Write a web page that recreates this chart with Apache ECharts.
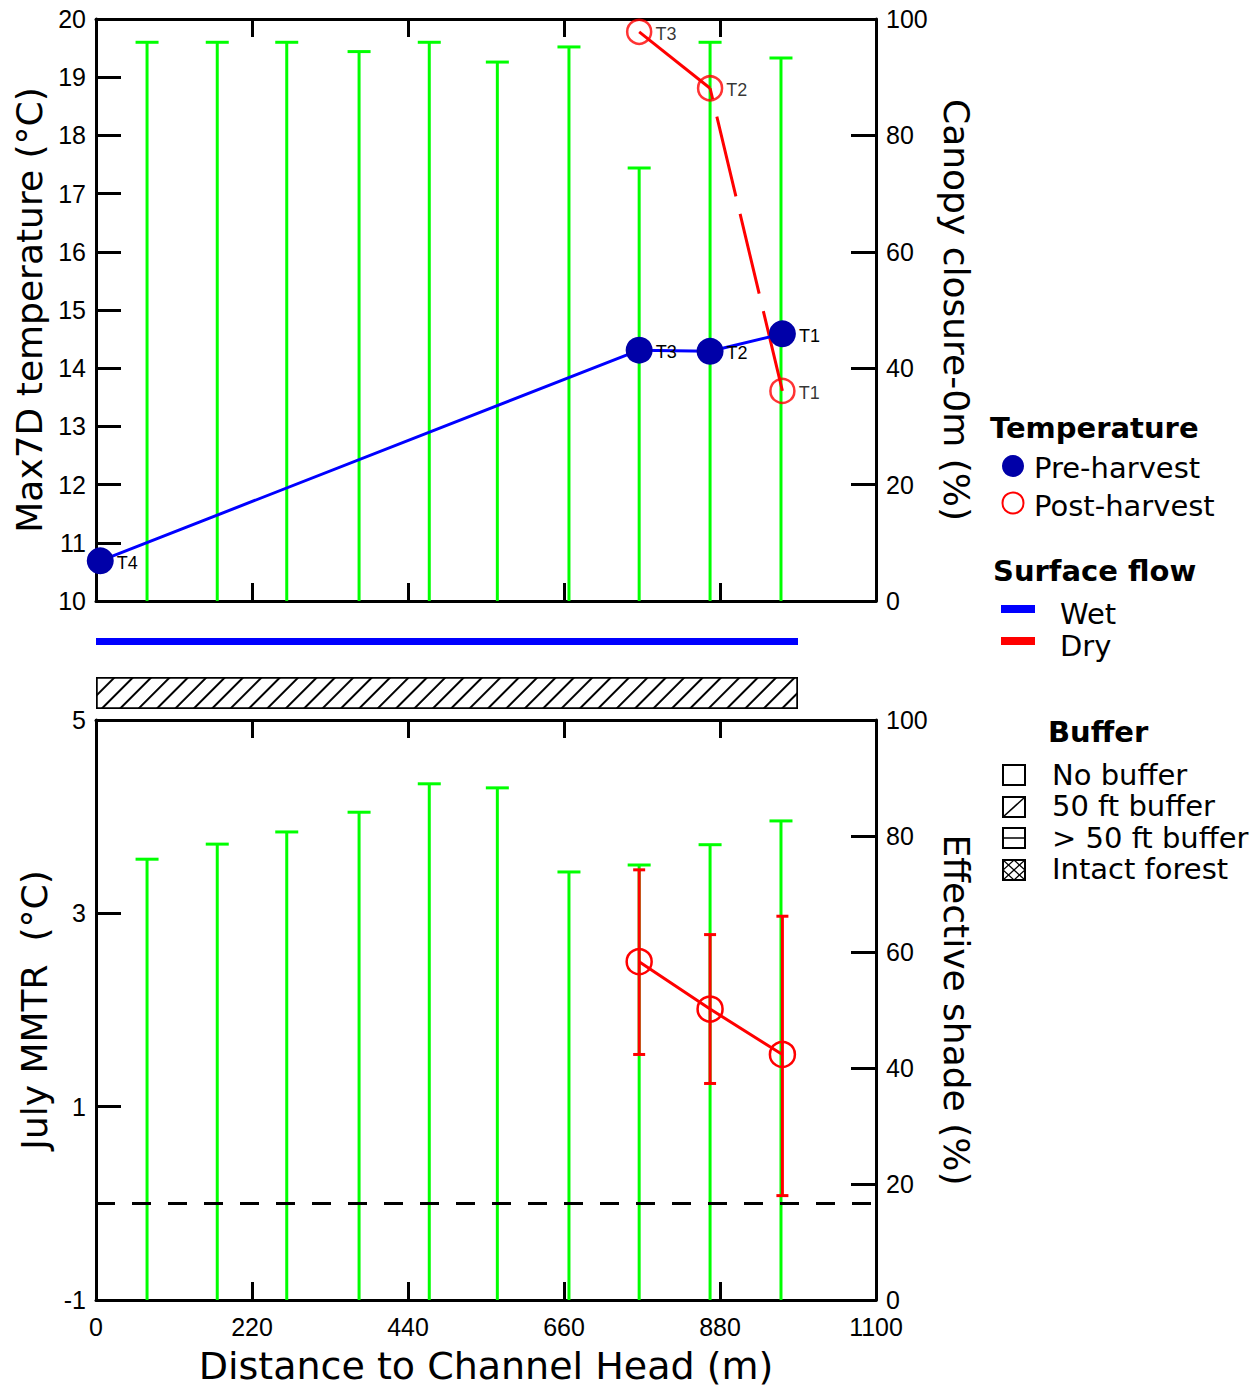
<!DOCTYPE html>
<html><head><meta charset="utf-8">
<script src="https://cdn.jsdelivr.net/npm/echarts@6/dist/echarts.min.js"></script>
<style>html,body{margin:0;padding:0;background:#fff}#c{width:1255px;height:1392px}</style>
</head><body><div id="c"></div><script>
// ---------------- data ----------------
const stationX = [72, 171, 269, 371, 470, 566, 667, 766, 866, 966];
const canopyClosure = [96.0, 96.0, 96.0, 94.4, 96.0, 92.6, 95.2, 74.4, 96.0, 93.3];
const effectiveShade = [76.0, 78.6, 80.7, 84.1, 89.0, 88.3, 73.8, 75.0, 78.5, 82.6];
const siteNames = ['T4', 'T3', 'T2', 'T1'];
const siteX = [6, 766, 866, 968];
const preHarvest = [10.69, 14.31, 14.29, 14.59];
const postHarvest = [null, 19.78, 18.81, 13.61];
const mmtrNames = ['T3', 'T2', 'T1'];
const mmtrX = [766, 866, 968];
const mmtrMean = [2.50, 2.01, 1.54];
const mmtrLow = [1.54, 1.24, 0.08];
const mmtrHigh = [3.45, 2.78, 2.97];
const wetFlowRange = [0, 990];
const buffer50Range = [0, 990];
const distanceTicks = [0, 220, 440, 660, 880, 1100];
const maxTempTicks = [10, 20, 1];
const mmtrTicks = [-1, 5, 2];
const percentTicks = [0, 100, 20];

// ---------------- helpers ----------------
const TICKF = 'Liberation Sans';
const TITLEF = 'DejaVu Sans';
const GREEN = '#00ff00', RED = '#ff0000', BLUE = '#0000ff', NAVY = '#0000a8';

function xAx(grid, pos, labels) {
  return {
    type: 'value', gridIndex: grid, position: pos,
    min: distanceTicks[0], max: distanceTicks[distanceTicks.length - 1],
    interval: distanceTicks[1] - distanceTicks[0],
    axisLine: { onZero: false, lineStyle: { color: '#000', width: 3 } },
    axisTick: { inside: true, length: 18, lineStyle: { color: '#000', width: 3 } },
    axisLabel: { show: labels, fontFamily: TICKF, fontSize: 25, color: '#000', margin: 14,
      formatter: v => String(v) },
    splitLine: { show: false }
  };
}
function yAx(grid, pos, t, name, nameRotate, nameGap) {
  return {
    type: 'value', gridIndex: grid, position: pos, min: t[0], max: t[1], interval: t[2],
    axisLine: { onZero: false, lineStyle: { color: '#000', width: 3 } },
    axisTick: { inside: true, length: 25, lineStyle: { color: '#000', width: 3 } },
    axisLabel: { fontFamily: TICKF, fontSize: 25, color: '#000', margin: 10 },
    splitLine: { show: false },
    name: name, nameLocation: 'middle', nameRotate: nameRotate, nameGap: nameGap,
    nameTextStyle: { fontFamily: TITLEF, fontSize: 36, color: '#000' }
  };
}
function capRender(color, capHalf, lw, bottomCap) {
  return function (params, api) {
    const x = api.value(0), lo = api.value(1), hi = api.value(2);
    const a = api.coord([x, lo]), b = api.coord([x, hi]);
    const st = { stroke: color, lineWidth: lw };
    const ch = [
      { type: 'line', shape: { x1: a[0], y1: a[1], x2: b[0], y2: b[1] }, style: st },
      { type: 'line', shape: { x1: b[0] - capHalf, y1: b[1], x2: b[0] + capHalf, y2: b[1] }, style: st }
    ];
    if (bottomCap) ch.push({ type: 'line', shape: { x1: a[0] - capHalf, y1: a[1], x2: a[0] + capHalf, y2: a[1] }, style: st });
    return { type: 'group', children: ch };
  };
}
const tLabel = { show: true, position: 'right', distance: 3, offset: [0, 2], fontFamily: TICKF, fontSize: 18, color: '#000',
  formatter: p => p.name };

// ---------------- series data ----------------
const canopyData = stationX.map((x, i) => [x, 0, canopyClosure[i]]);
const shadeData = stationX.map((x, i) => [x, 0, effectiveShade[i]]);
const preData = siteX.map((x, i) => ({ name: siteNames[i], value: [x, preHarvest[i]] }));
const postPts = siteX.map((x, i) => ({ name: siteNames[i], value: [x, postHarvest[i]] })).filter(d => d.value[1] != null);
const postSolid = [[siteX[1], postHarvest[1]], [siteX[2], postHarvest[2]]];
const postDashed = [[siteX[3], postHarvest[3]], [siteX[2], postHarvest[2]]];
const mmtrErr = mmtrX.map((x, i) => [x, mmtrLow[i], mmtrHigh[i]]);
const mmtrPts = mmtrX.map((x, i) => ({ name: mmtrNames[i], value: [x, mmtrMean[i]] }));

const option = {
  backgroundColor: '#fff',
  animation: false,
  grid: [
    { left: 96, top: 19, width: 780, height: 582 },
    { left: 96, top: 720, width: 780, height: 580 },
    { left: 96, top: 630, width: 780, height: 23 },
    { left: 96, top: 677, width: 780, height: 32 }
  ],
  xAxis: [
    xAx(0, 'bottom', false),
    xAx(0, 'top', false),
    Object.assign(xAx(1, 'bottom', true), {
      name: 'Distance to Channel Head (m)', nameLocation: 'middle', nameGap: 47,
      nameTextStyle: { fontFamily: TITLEF, fontSize: 38, color: '#000' }
    }),
    xAx(1, 'top', false),
    { type: 'value', gridIndex: 2, min: 0, max: 1100, show: false },
    { type: 'value', gridIndex: 3, min: 0, max: 1100, show: false }
  ],
  yAxis: [
    yAx(0, 'left', maxTempTicks, 'Max7D temperature (°C)', 90, 44),
    yAx(0, 'right', percentTicks, 'Canopy closure-0m (%)', -90, 60),
    yAx(1, 'left', mmtrTicks, 'July MMTR  (°C)', 90, 38),
    yAx(1, 'right', percentTicks, 'Effective shade (%)', -90, 60),
    { type: 'value', gridIndex: 2, min: 0, max: 1, show: false },
    { type: 'category', gridIndex: 3, data: ['50 ft buffer'], show: false }
  ],
  series: [
    { name: 'Canopy closure', type: 'custom', xAxisIndex: 0, yAxisIndex: 1, z: 1,
      renderItem: capRender(GREEN, 11.5, 3, false), data: canopyData, encode: { x: 0, y: [1, 2] } },
    { name: 'Pre-harvest', type: 'line', xAxisIndex: 0, yAxisIndex: 0, z: 4, data: preData,
      symbol: 'circle', symbolSize: 27, lineStyle: { color: BLUE, width: 3 },
      itemStyle: { color: NAVY }, label: tLabel },
    { name: 'Post-harvest line', type: 'line', xAxisIndex: 0, yAxisIndex: 0, z: 3, data: postSolid,
      showSymbol: false, lineStyle: { color: RED, width: 3 } },
    { name: 'Post-harvest dashed', type: 'line', xAxisIndex: 0, yAxisIndex: 0, z: 3, data: postDashed,
      showSymbol: false, lineStyle: { color: RED, width: 3, type: [82, 18] } },
    { name: 'Post-harvest', type: 'scatter', xAxisIndex: 0, yAxisIndex: 0, z: 5, data: postPts,
      symbol: 'circle', symbolSize: 24, itemStyle: { color: 'rgba(0,0,0,0)', borderColor: RED, borderWidth: 2.5 },
      label: tLabel },
    { name: 'Effective shade', type: 'custom', xAxisIndex: 2, yAxisIndex: 3, z: 1,
      renderItem: capRender(GREEN, 11.5, 3, false), data: shadeData, encode: { x: 0, y: [1, 2] } },
    { name: 'MMTR range', type: 'custom', xAxisIndex: 2, yAxisIndex: 2, z: 3,
      renderItem: capRender(RED, 6, 3, true), data: mmtrErr, encode: { x: 0, y: [1, 2] } },
    { name: 'July MMTR', type: 'line', xAxisIndex: 2, yAxisIndex: 2, z: 4, data: mmtrPts,
      symbol: 'circle', symbolSize: 25, lineStyle: { color: RED, width: 3 },
      itemStyle: { color: 'rgba(0,0,0,0)', borderColor: RED, borderWidth: 2.5 },
      markLine: { silent: true, symbol: 'none', label: { show: false },
        lineStyle: { color: '#000', width: 3, type: [19, 17] }, data: [{ yAxis: 0 }] } },
    { name: 'Wet', type: 'line', xAxisIndex: 4, yAxisIndex: 4, showSymbol: false,
      data: wetFlowRange.map(x => [x, 0.5]), lineStyle: { color: BLUE, width: 7, cap: 'butt' } },
    { name: '50 ft buffer', type: 'bar', xAxisIndex: 5, yAxisIndex: 5, barWidth: '100%',
      data: [buffer50Range[1]],
      itemStyle: { color: '#fff', borderColor: '#000', borderWidth: 1.5,
        decal: { symbol: 'rect', symbolSize: 1, color: '#000', dashArrayX: [1, 0], dashArrayY: [1.4, 10.4], rotation: -Math.PI / 4 } } }
  ],
  graphic: [
    { type: 'text', x: 990, y: 428, style: { text: 'Temperature', font: 'bold 29px "DejaVu Sans"', fill: '#000', verticalAlign: 'middle' } },
    { type: 'circle', shape: { cx: 1013, cy: 466, r: 11 }, style: { fill: NAVY } },
    { type: 'text', x: 1034, y: 468, style: { text: 'Pre-harvest', font: '29px "DejaVu Sans"', fill: '#000', verticalAlign: 'middle' } },
    { type: 'circle', shape: { cx: 1013, cy: 503, r: 10.5 }, style: { fill: 'none', stroke: RED, lineWidth: 2 } },
    { type: 'text', x: 1034, y: 506, style: { text: 'Post-harvest', font: '29px "DejaVu Sans"', fill: '#000', verticalAlign: 'middle' } },
    { type: 'text', x: 993, y: 571, style: { text: 'Surface flow', font: 'bold 29px "DejaVu Sans"', fill: '#000', verticalAlign: 'middle' } },
    { type: 'rect', shape: { x: 1001, y: 605, width: 34, height: 8 }, style: { fill: BLUE } },
    { type: 'text', x: 1060, y: 614, style: { text: 'Wet', font: '29px "DejaVu Sans"', fill: '#000', verticalAlign: 'middle' } },
    { type: 'rect', shape: { x: 1001, y: 637, width: 34, height: 8 }, style: { fill: RED } },
    { type: 'text', x: 1060, y: 646, style: { text: 'Dry', font: '29px "DejaVu Sans"', fill: '#000', verticalAlign: 'middle' } },
    { type: 'text', x: 1048, y: 732, style: { text: 'Buffer', font: 'bold 29px "DejaVu Sans"', fill: '#000', verticalAlign: 'middle' } },
    { type: 'rect', shape: { x: 1003, y: 765, width: 22, height: 20 }, style: { fill: 'none', stroke: '#000', lineWidth: 2 } },
    { type: 'text', x: 1052, y: 775, style: { text: 'No buffer', font: '29px "DejaVu Sans"', fill: '#000', verticalAlign: 'middle' } },
    { type: 'rect', shape: { x: 1003, y: 797, width: 22, height: 20 }, style: { fill: 'none', stroke: '#000', lineWidth: 2 } },
    { type: 'line', shape: { x1: 1003, y1: 817, x2: 1025, y2: 797 }, style: { stroke: '#000', lineWidth: 1.5 } },
    { type: 'text', x: 1052, y: 806, style: { text: '50 ft buffer', font: '29px "DejaVu Sans"', fill: '#000', verticalAlign: 'middle' } },
    { type: 'rect', shape: { x: 1003, y: 828, width: 22, height: 20 }, style: { fill: 'none', stroke: '#000', lineWidth: 2 } },
    { type: 'line', shape: { x1: 1003, y1: 838, x2: 1025, y2: 838 }, style: { stroke: '#000', lineWidth: 1.5 } },
    { type: 'text', x: 1052, y: 838, style: { text: '> 50 ft buffer', font: '29px "DejaVu Sans"', fill: '#000', verticalAlign: 'middle' } },
    { type: 'rect', shape: { x: 1003, y: 860, width: 22, height: 20 }, style: { fill: 'none', stroke: '#000', lineWidth: 2 } },
    { type: 'line', shape: { x1: 1003, y1: 860, x2: 1025, y2: 880 }, style: { stroke: '#000', lineWidth: 1.2 } },
    { type: 'line', shape: { x1: 1003, y1: 880, x2: 1025, y2: 860 }, style: { stroke: '#000', lineWidth: 1.2 } },
    { type: 'polygon', shape: { points: [[1014, 860], [1025, 870], [1014, 880], [1003, 870]] }, style: { fill: 'none', stroke: '#000', lineWidth: 1.2 } },
    { type: 'text', x: 1052, y: 869, style: { text: 'Intact forest', font: '29px "DejaVu Sans"', fill: '#000', verticalAlign: 'middle' } }
  ]
};
const chart = echarts.init(document.getElementById('c'), null, { renderer: 'svg', width: 1255, height: 1392 });
chart.setOption(option);
</script></body></html>
